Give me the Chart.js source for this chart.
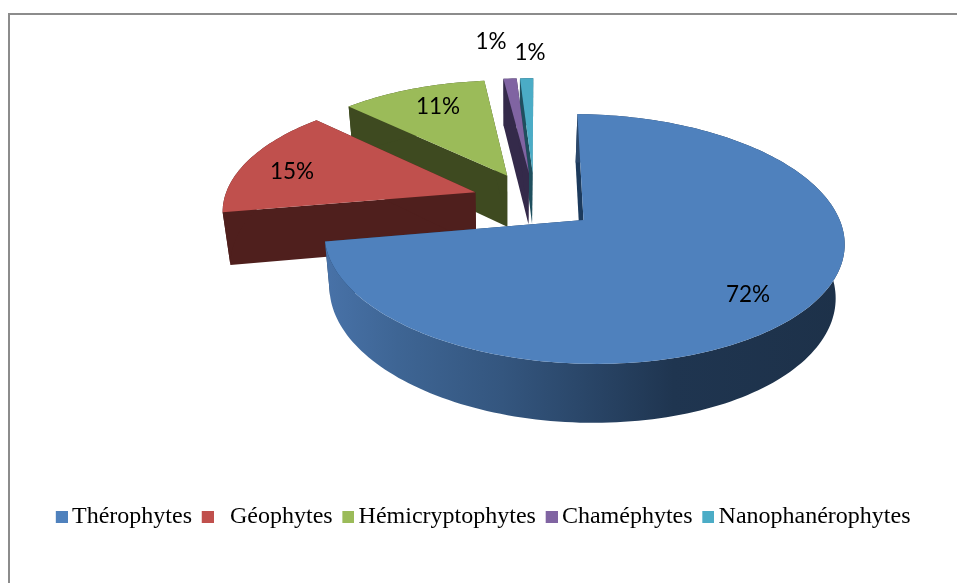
<!DOCTYPE html>
<html><head><meta charset="utf-8">
<style>
html,body{margin:0;padding:0;background:#fff;overflow:hidden}
#wrap{position:relative;width:957px;height:583px}
#frame{position:absolute;left:8px;top:13px;right:0;bottom:0;border-left:2px solid #8c8c8c;border-top:2px solid #8c8c8c;pointer-events:none}
canvas{display:block}
</style>
<script src="https://cdn.jsdelivr.net/npm/chart.js@4"></script>
</head><body>
<div id="wrap"><canvas id="c" width="957" height="583"></canvas><div id="frame"></div></div>
<script>
const categories = ["Thérophytes", "  Géophytes", "Hémicryptophytes", "Chaméphytes", "Nanophanérophytes"];
const values = [72, 15, 11, 1, 1];
const topColors = ["#4f81bd", "#c0504d", "#9bbb59", "#8064a2", "#4bacc6"];
const wallColors = ["#1c3a5c", "#4f1f1d", "#3e4a20", "#342a4a", "#1f4f5e"];
const labelAnchors = [[748, 295], [292, 172], [438, 107], [491, 42], [530, 53]];

// Perspective projection of the pie plane (unit radius), fitted to the picture
const EXPLODE = 0.248, P = 0.152, AX = 583.5, AY = 220, SX = 257, SY = 122, SKEW = 7, TILT = 2;
const project = (u, v) => {
  const w = 1 - P * v;
  return [AX + (SX * u + SKEW * v) / w, AY + (SY * v + TILT * u) / w];
};
const lower = ([x, y]) => [510 + (x - 510) * 0.973, y + 51 + (y - 175) * 0.042];

// Legend swatch: a 12px square set at the right of a wider transparent icon
const swatch = color => {
  const c = document.createElement('canvas');
  c.width = 16; c.height = 12;
  const g = c.getContext('2d');
  g.fillStyle = color; g.fillRect(4, 0, 12, 12);
  return c;
};

const pie3d = {
  id: 'pie3d',
  beforeDatasetsDraw(chart) {
    const ctx = chart.ctx, arcs = chart.getDatasetMeta(0).data;
    const midOf = a => (a.startAngle + a.endAngle) / 2;
    const m0 = midOf(arcs[0]);
    const shapes = arcs.map(a => {
      const m = midOf(a);
      const du = EXPLODE * (Math.cos(m) - Math.cos(m0)), dv = EXPLODE * (Math.sin(m) - Math.sin(m0));
      const n = Math.max(3, Math.ceil((a.endAngle - a.startAngle) * 40));
      const rim = [];
      for (let i = 0; i <= n; i++) {
        const t = a.startAngle + (a.endAngle - a.startAngle) * i / n;
        rim.push(project(du + Math.cos(t), dv + Math.sin(t)));
      }
      return { apex: project(du, dv), rim };
    });
    const poly = (pts, fill) => {
      ctx.beginPath();
      pts.forEach((p, i) => i ? ctx.lineTo(p[0], p[1]) : ctx.moveTo(p[0], p[1]));
      ctx.closePath();
      ctx.fillStyle = fill; ctx.fill();
    };
    ctx.save();
    for (let i = arcs.length - 1; i >= 0; i--) {
      const { apex, rim } = shapes[i];
      const wall = wallColors[i];
      let rimFill = wall;
      if (i === 0) {
        const g = ctx.createLinearGradient(325, 0, 845, 0);
        g.addColorStop(0, '#4872a8');
        g.addColorStop(0.14, '#3e6594');
        g.addColorStop(0.34, '#34567f');
        g.addColorStop(0.67, '#1f3550');
        g.addColorStop(1, '#1d3149');
        rimFill = g;
      }
      poly([apex, rim[0], lower(rim[0]), lower(apex)], wall);
      poly([apex, rim[rim.length - 1], lower(rim[rim.length - 1]), lower(apex)], wall);
      poly([...rim, ...rim.map(lower).reverse()], rimFill);
      poly([apex, ...rim], topColors[i]);
    }
    ctx.restore();
    return false;
  },
  afterDraw(chart) {
    const ctx = chart.ctx;
    ctx.save();
    ctx.font = '22.5px Lato';
    ctx.fillStyle = '#000';
    ctx.textAlign = 'center';
    ctx.textBaseline = 'middle';
    values.forEach((v, i) => ctx.fillText(v + '%', labelAnchors[i][0], labelAnchors[i][1]));
    ctx.restore();
  }
};

new Chart(document.getElementById('c'), {
  type: 'pie',
  data: { labels: categories, datasets: [{ data: values, backgroundColor: topColors, borderWidth: 0 }] },
  options: {
    responsive: false,
    animation: false,
    layout: { padding: { left: 13, right: 0, top: 20, bottom: 44 } },
    plugins: {
      tooltip: { enabled: false },
      legend: {
        position: 'bottom',
        labels: {
          usePointStyle: true, boxWidth: 0.5, boxHeight: 12,
          padding: 13.5, color: '#000',
          font: { family: '"Liberation Serif"', size: 24 },
          generateLabels: chart => Chart.overrides.pie.plugins.legend.labels.generateLabels(chart)
            .map((item, i) => ({ ...item, pointStyle: swatch(topColors[i]) }))
        }
      }
    }
  },
  plugins: [pie3d]
});
</script>
</body></html>
